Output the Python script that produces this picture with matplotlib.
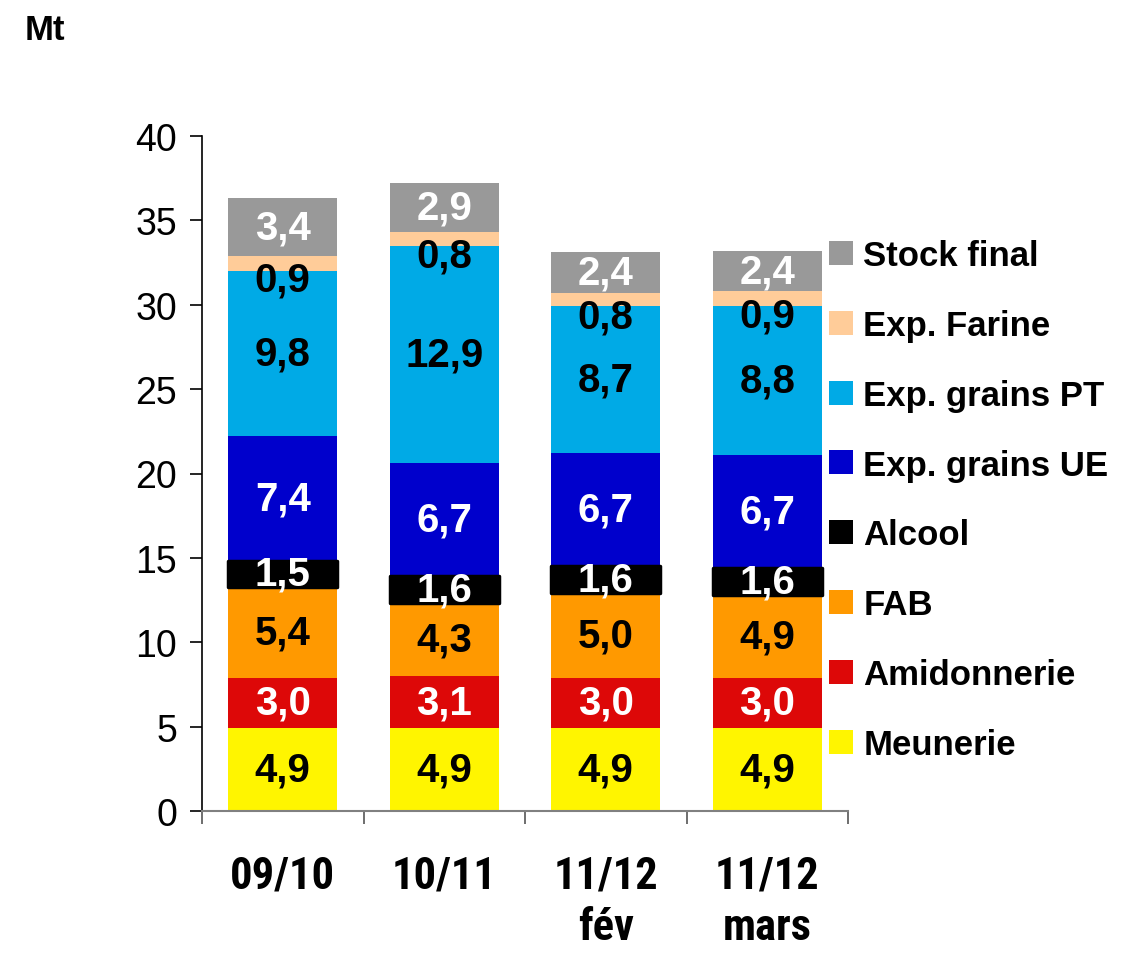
import matplotlib
matplotlib.use("Agg")
import matplotlib.pyplot as plt
from matplotlib import font_manager
import numpy as np

categories = ["09/10", "10/11", "11/12\nfév", "11/12\nmars"]
series_names = ["Meunerie", "Amidonnerie", "FAB", "Alcool",
                "Exp. grains UE", "Exp. grains PT", "Exp. Farine", "Stock final"]
meunerie = [4.9, 4.9, 4.9, 4.9]
amidonnerie = [3.0, 3.1, 3.0, 3.0]
fab = [5.4, 4.3, 5.0, 4.9]
alcool = [1.5, 1.6, 1.6, 1.6]
exp_ue = [7.4, 6.7, 6.7, 6.7]
exp_pt = [9.8, 12.9, 8.7, 8.8]
exp_farine = [0.9, 0.8, 0.8, 0.9]
stock_final = [3.4, 2.9, 2.4, 2.4]
yticks = [0, 5, 10, 15, 20, 25, 30, 35, 40]

series = [meunerie, amidonnerie, fab, alcool, exp_ue, exp_pt, exp_farine, stock_final]
colors = ["#FFF500", "#DD0808", "#FF9900", "#000000",
          "#0000CC", "#00AAE6", "#FFCC99", "#999999"]
label_colors = ["black", "white", "black", "white", "white", "black", "black", "white"]

fonts = font_manager.fontManager.ttflist
names = {f.name for f in fonts}
narrow = None
for cand in ["Liberation Sans Narrow", "Arial Narrow", "Roboto Condensed",
             "Open Sans Condensed", "DejaVu Sans Condensed"]:
    if cand in names:
        narrow = cand
        break
narrow_stretch = "normal"
if narrow is None:
    cond = [f for f in fonts if ("condensed" in str(f.stretch).lower() or "Condensed" in f.fname
                                 or "Narrow" in f.fname)]
    if cond:
        narrow = cond[0].name
        narrow_stretch = "condensed"
    else:
        narrow = "Liberation Sans"
base = "Liberation Sans"
plt.rcParams['font.family'] = [base, 'DejaVu Sans']

fig = plt.figure(figsize=(11.35, 9.54), dpi=100)
ax = fig.add_axes([202/1135, 1-812/954, (848-202)/1135, (812-137)/954])

x = np.arange(len(categories))
width = 0.675
bottom = np.zeros(len(categories))
for i, (vals, col) in enumerate(zip(series, colors)):
    vals = np.array(vals)
    if series_names[i] == "Alcool":
        ax.bar(x, vals, width, bottom=bottom, color=col, edgecolor="black",
               linewidth=2.5, joinstyle="round", label=series_names[i], zorder=3)
    else:
        ax.bar(x, vals, width, bottom=bottom, color=col, linewidth=0,
               label=series_names[i], zorder=2)
    for j, v in enumerate(vals):
        txt = f"{v:.1f}".replace(".", ",")
        c = bottom[j] + v / 2
        kw = dict(ha="center", color=label_colors[i], fontsize=29,
                  fontweight="bold", zorder=5)
        if series_names[i] == "Exp. Farine":
            ax.text(x[j], c + 0.15, txt, va="top", **kw)
        else:
            ax.text(x[j], c, txt, va="center", **kw)
    bottom += vals

ax.set_xlim(-0.5, 3.5)
ax.set_ylim(0, 40)
ax.set_yticks(yticks)
ax.set_yticklabels([str(t) for t in yticks], fontsize=27)
ax.tick_params(axis="y", length=9, width=1.2, color="black", pad=9, direction="out")

ax.set_xticks(x)
ax.set_xticklabels(categories, fontsize=32, fontweight="bold", family=narrow,
                   fontstretch=narrow_stretch, linespacing=1.3)
ax.tick_params(axis="x", length=0, pad=31)
ax.set_xticks(np.arange(-0.5, 4, 1), minor=True)
ax.tick_params(axis="x", which="minor", length=9, width=1.2, color="#555555")

for s in ["top", "right"]:
    ax.spines[s].set_visible(False)
ax.spines["left"].set_color("black")
ax.spines["left"].set_linewidth(1.2)
ax.spines["bottom"].set_color("#808080")
ax.spines["bottom"].set_linewidth(1.5)

handles, labels = ax.get_legend_handles_labels()
leg = fig.legend(handles[::-1], labels[::-1], loc="center left",
                 bbox_to_anchor=(829/1135, 1-501/954), frameon=False,
                 prop={"family": base, "weight": "bold", "size": 25},
                 handlelength=0.69, handleheight=0.69, handletextpad=0.3,
                 labelspacing=1.06, borderpad=0, borderaxespad=0)
for h in leg.legend_handles:
    h.set_linewidth(0)

fig.text(25/1135, 1-30/954, "Mt", fontsize=25, fontweight="bold", va="center", ha="left")

fig.savefig("out.png", dpi=100)
